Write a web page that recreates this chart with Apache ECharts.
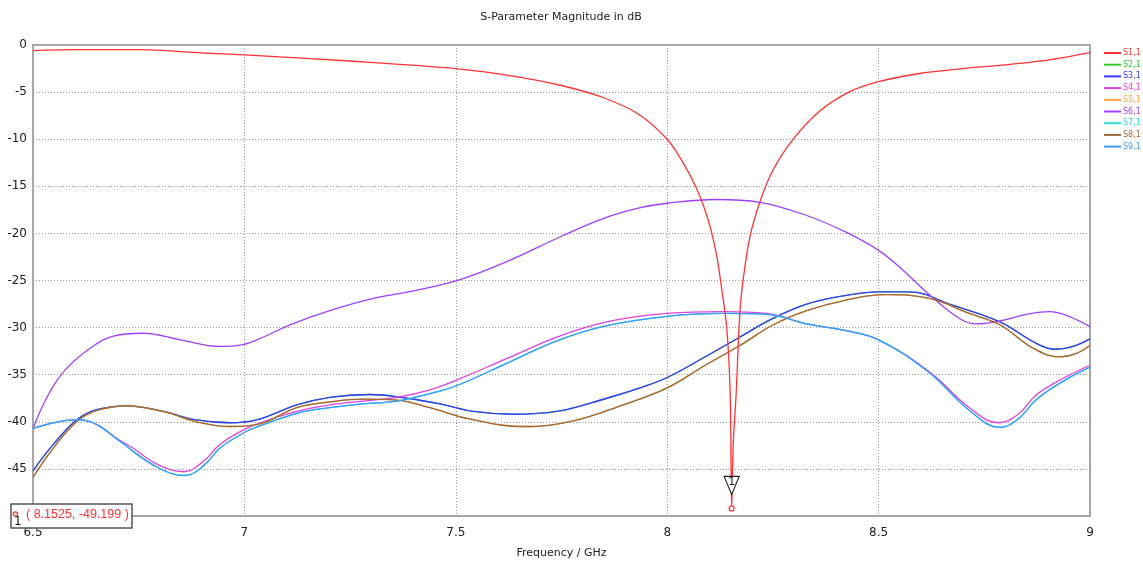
<!DOCTYPE html>
<html>
<head>
<meta charset="utf-8">
<script src="https://cdn.jsdelivr.net/npm/echarts@6/dist/echarts.min.js"></script>
<style>
html,body{margin:0;padding:0;background:#fff;}
#c{width:1143px;height:564px;}
</style>
</head>
<body>
<div id="c"></div>
<script>
// ---- data ----
const names = ['S1,1','S2,1','S3,1','S4,1','S5,1','S6,1','S7,1','S8,1','S9,1'];
const colors = ['#ff3333','#33cc33','#3a3aff','#e040e0','#ffa040','#a040ff','#30dcdc','#9c6a3c','#3c9cff'];

const s1f = [6.5,6.6,6.75,6.9,7.0,7.25,7.5,7.65,7.75,7.85,7.934,8.0,8.035,8.067,8.09,8.105,8.118,8.129,8.141,8.149,8.1525,8.156,8.163,8.172,8.18,8.195,8.219,8.25,8.298,8.361,8.43,8.5,8.6,8.7,8.8,8.9,9.0];
const s1v = [-0.6,-0.5,-0.5,-0.85,-1.05,-1.7,-2.5,-3.4,-4.3,-5.6,-7.4,-10.0,-12.3,-15.0,-17.6,-19.9,-22.6,-25.9,-30.1,-37.1,-49.2,-42.5,-37.1,-28.3,-24.8,-20.5,-16.7,-13.3,-10.0,-7.0,-5.0,-3.9,-3.0,-2.5,-2.1,-1.6,-0.8];

const s3f = [6.5,6.548,6.603,6.651,6.722,6.808,6.887,6.966,7.029,7.124,7.202,7.297,7.384,7.463,7.542,7.636,7.739,7.857,7.936,8.0,8.09,8.172,8.251,8.33,8.42,8.5,8.571,8.673,8.787,8.874,8.921,8.96,9.0];
const s3v = [-45.2,-42.4,-39.8,-38.7,-38.3,-38.9,-39.8,-40.1,-39.8,-38.2,-37.4,-37.1,-37.5,-38.1,-38.9,-39.2,-38.9,-37.5,-36.4,-35.3,-33.1,-31.0,-29.0,-27.5,-26.6,-26.2,-26.2,-27.6,-29.4,-31.7,-32.3,-32.0,-31.2];

const s4f = [6.5,6.572,6.61,6.651,6.706,6.737,6.793,6.856,6.903,6.942,7.005,7.045,7.124,7.202,7.281,7.36,7.439,7.5,7.62,7.739,7.857,8.0,8.133,8.235,8.33,8.42,8.5,8.62,8.715,8.783,8.83,8.874,8.94,9.0];
const s4v = [-40.7,-39.9,-39.8,-40.3,-42.0,-42.8,-44.5,-45.3,-44.2,-42.4,-40.7,-40.0,-38.9,-38.2,-37.8,-37.4,-36.6,-35.6,-33.3,-31.0,-29.4,-28.5,-28.3,-28.5,-29.6,-30.3,-31.3,-34.7,-38.5,-40.1,-39.2,-37.1,-35.3,-34.0];

const s6f = [6.5,6.532,6.572,6.635,6.69,6.761,6.848,6.942,6.997,7.045,7.108,7.202,7.305,7.4,7.51,7.62,7.75,7.85,7.934,8.0,8.117,8.219,8.33,8.424,8.5,8.555,8.62,8.69,8.73,8.787,8.85,8.905,8.95,9.0];
const s6v = [-40.7,-37.5,-34.7,-32.2,-30.9,-30.6,-31.3,-32.0,-31.8,-31.0,-29.7,-28.2,-26.9,-26.1,-24.9,-23.0,-20.3,-18.4,-17.3,-16.8,-16.4,-16.7,-18.1,-19.9,-21.8,-23.8,-26.5,-29.0,-29.6,-29.3,-28.6,-28.3,-28.8,-29.9];

const s8f = [6.5,6.548,6.603,6.651,6.722,6.808,6.887,6.966,7.029,7.124,7.2,7.281,7.36,7.439,7.533,7.66,7.778,7.896,8.0,8.09,8.172,8.251,8.33,8.42,8.516,8.62,8.715,8.787,8.866,8.929,8.965,9.0];
const s8v = [-45.9,-42.8,-40.0,-38.8,-38.3,-38.9,-40.0,-40.5,-40.3,-38.5,-37.9,-37.6,-37.7,-38.5,-39.7,-40.5,-39.9,-38.2,-36.4,-34.0,-31.9,-29.7,-28.2,-27.1,-26.5,-26.9,-28.5,-29.7,-32.2,-33.1,-32.8,-31.9];

const s9f = [6.5,6.572,6.61,6.651,6.706,6.793,6.86,6.905,6.942,7.005,7.045,7.124,7.202,7.281,7.36,7.439,7.5,7.62,7.739,7.857,8.0,8.133,8.235,8.33,8.42,8.5,8.62,8.715,8.787,8.83,8.874,8.94,9.0];
const s9v = [-40.7,-39.9,-39.8,-40.3,-42.1,-44.8,-45.7,-44.6,-42.8,-41.0,-40.3,-39.1,-38.5,-38.1,-37.8,-37.0,-36.2,-33.8,-31.4,-29.8,-28.8,-28.5,-28.6,-29.6,-30.3,-31.3,-34.8,-38.8,-40.6,-39.7,-37.6,-35.6,-34.2];

// hidden (coincident) curves
const s2f = s3f, s2v = s3v;
const s5f = s8f, s5v = s8v;
const s7f = s9f, s7v = s9v;

const markerF = 8.1525, markerV = -49.199;
const xTicks = {min: 6.5, max: 9, interval: 0.5};
const yTicks = {min: -50, max: 0, interval: 5};

// ---- chart ----
const pairs = (f, v) => f.map((x, i) => [x, v[i]]);
const allF = [s1f,s2f,s3f,s4f,s5f,s6f,s7f,s8f,s9f];
const allV = [s1v,s2v,s3v,s4v,s5v,s6v,s7v,s8v,s9v];
const font = 'DejaVu Sans';

const series = names.map((n, i) => ({
  name: n,
  type: 'line',
  data: pairs(allF[i], allV[i]),
  showSymbol: false,
  symbol: 'none',
  smooth: i === 0 ? 0.3 : 0.4,
  lineStyle: {color: colors[i], width: 1.3},
  itemStyle: {color: colors[i]},
  z: 2,
  animation: false
}));
series[0].z = 3;
series[0].markPoint = {
  animation: false,
  data: [
    {coord: [markerF, markerV], symbol: 'circle', symbolSize: 5,
     itemStyle: {color: '#fff', borderColor: '#ff3333', borderWidth: 1.2}, label: {show: false}},
    {coord: [markerF, markerV], symbol: 'triangle', symbolRotate: 180, symbolSize: [15, 18], symbolOffset: [0, -23],
     itemStyle: {color: '#fff', borderColor: '#222', borderWidth: 1.2},
     label: {show: true, formatter: '1', position: 'inside', offset: [0, -3], color: '#222', fontFamily: font, fontSize: 11}}
  ]
};

const chart = echarts.init(document.getElementById('c'), null, {renderer: 'canvas'});
chart.setOption({
  animation: false,
  backgroundColor: '#fff',
  title: {text: 'S-Parameter Magnitude in dB', left: 556, top: 7, textAlign: 'center',
          textStyle: {fontFamily: font, fontSize: 11, fontWeight: 'normal', color: '#222'}},
  legend: {
    orient: 'vertical', left: 1099, top: 43, itemWidth: 17, itemHeight: 2, itemGap: 1.7,
    icon: 'rect',
    data: names.map((n, i) => ({name: n, textStyle: {color: colors[i]}})),
    textStyle: {fontFamily: font, fontSize: 8, lineHeight: 10, padding: [0,0,0,-3]}
  },
  grid: {left: 33, right: 53, top: 45, bottom: 45, show: true, borderColor: '#a8a8a8', borderWidth: 2, containLabel: false},
  xAxis: {
    type: 'value', min: xTicks.min, max: xTicks.max, interval: xTicks.interval,
    name: 'Frequency / GHz', nameLocation: 'middle', nameGap: 32,
    nameTextStyle: {fontFamily: font, fontSize: 11, color: '#222'},
    axisLine: {show: true, lineStyle: {color: '#a8a8a8', width: 2}},
    axisTick: {show: false},
    axisLabel: {fontFamily: font, fontSize: 12, color: '#222', margin: 11},
    splitLine: {show: true, lineStyle: {color: '#999', type: [1, 2], width: 1}}
  },
  yAxis: {
    type: 'value', min: yTicks.min, max: yTicks.max, interval: yTicks.interval,
    axisLine: {show: true, lineStyle: {color: '#a8a8a8', width: 2}},
    axisTick: {show: false},
    axisLabel: {fontFamily: font, fontSize: 12, color: '#222', margin: 6,
                formatter: v => (v === yTicks.min ? '' : String(v))},
    splitLine: {show: true, lineStyle: {color: '#999', type: [1, 2], width: 1}}
  },
  series: series,
  graphic: [
    {type: 'rect', z: 100, shape: {x: 11, y: 504, width: 121, height: 24}, style: {fill: '#fff', stroke: '#555', lineWidth: 1.5}},
    {type: 'circle', z: 101, shape: {cx: 15.5, cy: 514, r: 2.2}, style: {fill: '#fff', stroke: '#ff3333', lineWidth: 1.2}},
    {type: 'text', z: 101, x: 14, y: 516, style: {text: '1', fill: '#111', font: '12px ' + font}},
    {type: 'text', z: 101, x: 26, y: 508, style: {text: '( ' + markerF + ', ' + markerV + ' )', fill: '#ff3333', font: '12.5px Liberation Sans'}}
  ]
});
</script>
</body>
</html>
